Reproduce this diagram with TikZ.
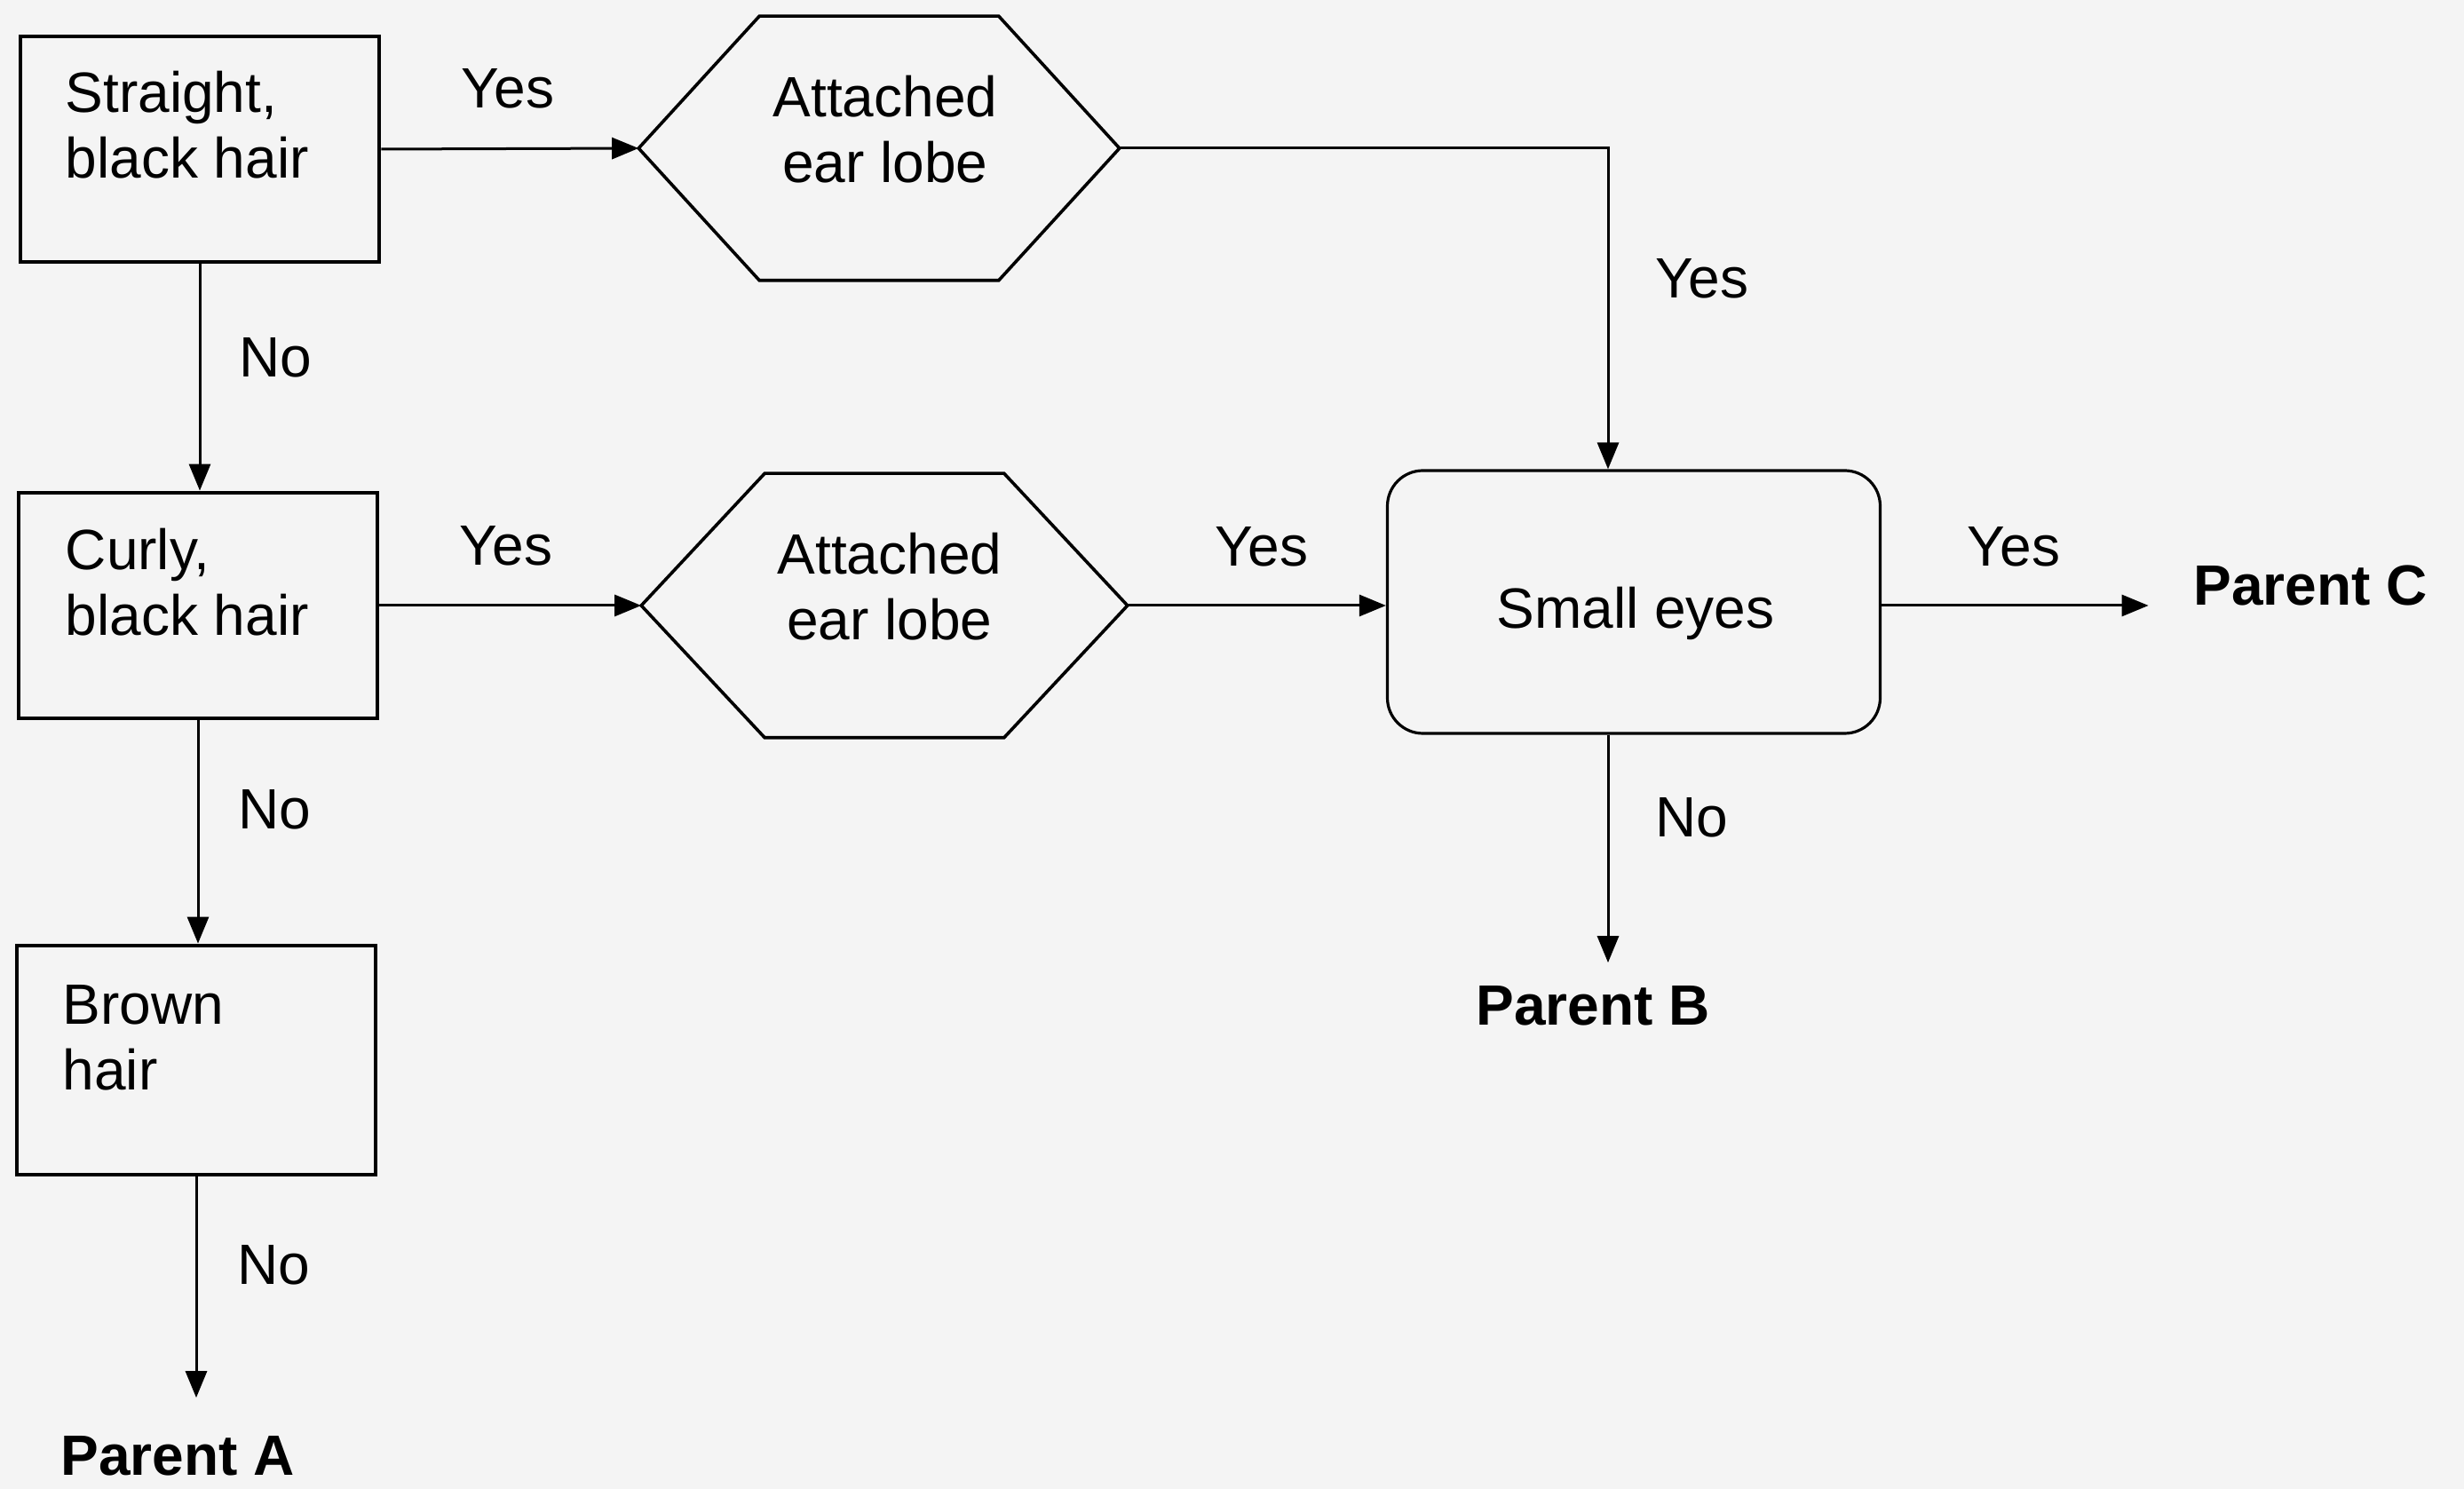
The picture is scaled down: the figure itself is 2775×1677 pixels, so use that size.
\documentclass[tikz,border=0pt]{standalone}
\usepackage{fontspec}
\setmainfont{Liberation Sans}
\usetikzlibrary{arrows.meta,calc}
\definecolor{paper}{HTML}{F4F4F4}
\begin{document}
\begin{tikzpicture}[x=0.25pt,y=-0.25pt,
  every node/.style={font=\fontsize{16}{18.5}\selectfont, inner sep=0},
  box/.style={draw, line width=1.2pt, minimum width=101pt, minimum height=63.5pt},
  hexbox/.style={minimum width=135pt, minimum height=74pt},
  hexline/.style={line width=0.9pt, line join=miter},
  roundbox/.style={draw, line width=0.8pt, rounded corners=10pt, minimum width=138.75pt, minimum height=74pt},
  boxtext/.style={anchor=north west, align=left},
  lab/.style={anchor=base},
  result/.style={anchor=base, font=\fontsize{16}{18.5}\selectfont\bfseries},
  arr/.style={line width=0.75pt, -{Triangle[length=7.5pt,width=6pt]}}
]
\fill[paper] (0,0) rectangle (2775,1677);
\useasboundingbox (0,0) rectangle (2775,1677);

% boxes
\node[box] (b1) at (225,168) {};
\node[box] (b2) at (223,682) {};
\node[box, minimum height=64.5pt] (b3) at (221,1194) {};
\node[boxtext] (t1) at (73,79) {Straight,\\black hair};
\node[boxtext] (t2) at (73,594) {Curly,\\black hair};
\node[boxtext] (t3) at (70,1109) {Brown\\hair};

% hexagons
\node[hexbox] (h1) at (990,167) {};
\node[hexbox, minimum width=136.5pt] (h2) at (996,682) {};
\draw[hexline] (h1.west) -- ([xshift=34pt]h1.north west) -- ([xshift=-34pt]h1.north east)
  -- (h1.east) -- ([xshift=-34pt]h1.south east) -- ([xshift=34pt]h1.south west) -- cycle;
\draw[hexline] (h2.west) -- ([xshift=34.75pt]h2.north west) -- ([xshift=-34.75pt]h2.north east)
  -- (h2.east) -- ([xshift=-34.75pt]h2.south east) -- ([xshift=34.75pt]h2.south west) -- cycle;
\node[align=center] (h1t) at (997,146) {Attached\\ear lobe};
\node[align=center] (h2t) at (1002,661) {Attached\\ear lobe};

% small eyes
\node[roundbox] (se) at (1840,678) {};
\node[lab] (set) at (1842,708) {Small eyes};

% results
\node[result] (pA) at (200,1661) {Parent A};
\node[result] (pB) at (1794,1155) {Parent B};
\node[result] (pC) at (2602,682) {Parent C};

\coordinate (colB) at (1811,0);

% connectors
\draw[arr] (b1.east) -- (h1.west);
\draw[arr] (b1.south) -- (b1.south |- b2.north);
\draw[arr] (b2.east) -- (h2.west);
\draw[arr] (b2.south) -- (b2.south |- b3.north);
\draw[arr, shorten >=10.5pt] (b3.south) -- (b3.south |- pA.north);
\draw[arr] (h1.east) -| (colB |- se.north);
\draw[arr] (h2.east) -- (h2.east -| se.west);
\draw[arr, shorten >=12.5pt] (se.east |- h2.east) -- (pC.west |- h2.east);
\draw[arr, shorten >=6.5pt] (colB |- se.south) -- (colB |- pB.north);

% labels
\node[lab] (y1) at (572,122) {Yes};
\node[lab] (y2) at (570,637) {Yes};
\node[lab] (y3) at (1917,336) {Yes};
\node[lab] (y4) at (1421,638) {Yes};
\node[lab] (y5) at (2268,638) {Yes};
\node[lab] (n1) at (310,425) {No};
\node[lab] (n2) at (309,934) {No};
\node[lab] (n3) at (308,1447) {No};
\node[lab] (n4) at (1905,943) {No};
\end{tikzpicture}
\end{document}
